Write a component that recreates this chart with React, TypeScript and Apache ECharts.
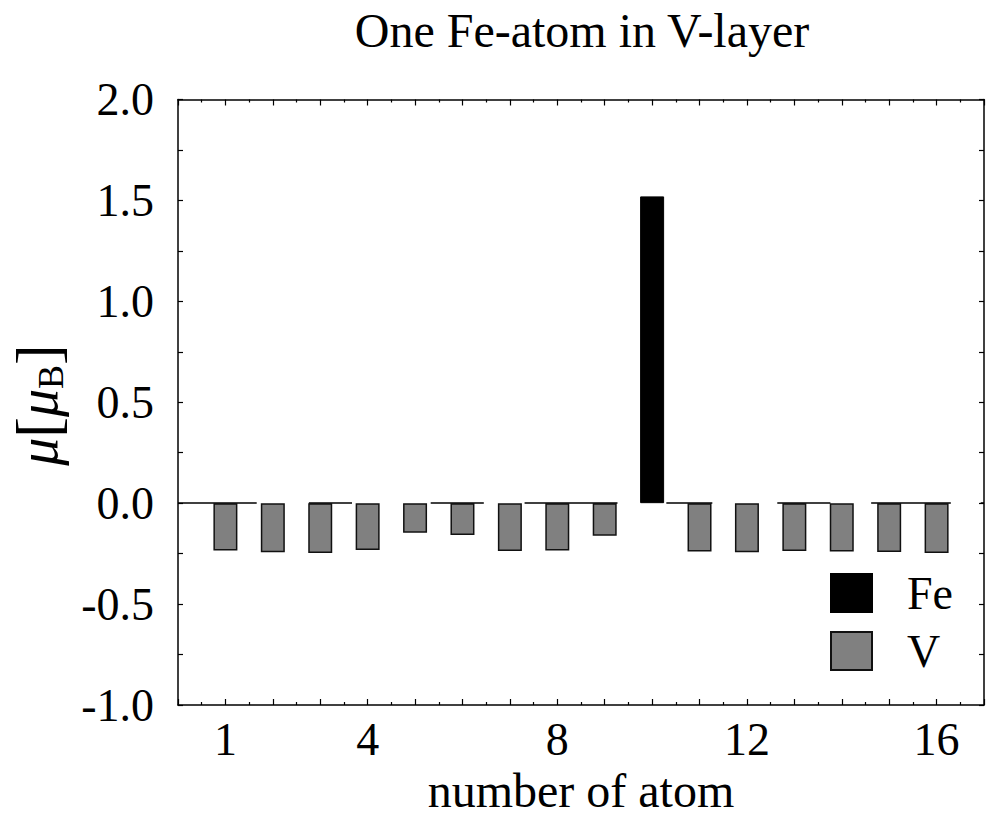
import React, { useEffect, useRef } from "react";
import * as echarts from "echarts";

const atomNumbers = [1, 2, 3, 4, 5, 6, 7, 8, 9, 11, 12, 13, 14, 15, 16];
const vMoments = [-0.235, -0.243, -0.247, -0.232, -0.146, -0.158, -0.237, -0.235, -0.161, -0.240, -0.243, -0.237, -0.240, -0.242, -0.247];
const feAtom = [10];
const feMoments = [1.52];
const xTickLabels = [1, 4, 8, 12, 16];
// zero line drawn in pieces, as in the reference [from, to] along the x axis
const zeroLineSegments = [
  [0, 1.66], [2.76, 3.67], [5.33, 6.45], [7.31, 9.27],
  [10.3, 11.27], [12.64, 13.76], [14.62, 16.3], [16.93, 17],
];

const FONT = "'Liberation Serif', 'Times New Roman', serif";

export default function App() {
  const ref = useRef<HTMLDivElement>(null);
  useEffect(() => {
    if (!ref.current) return;
    const chart = echarts.init(ref.current, undefined, { renderer: "svg" });
    const axisLine = { show: true, onZero: false, lineStyle: { color: "#000", width: 1.5 } };
    const xCommon = {
      type: "value" as const,
      min: 0,
      max: 17,
      interval: 1,
      axisLine,
      axisTick: { show: true, inside: true, length: 6, lineStyle: { color: "#000", width: 1.2 } },
      minorTick: { show: true, splitNumber: 2, length: 3, lineStyle: { color: "#000", width: 1.2 } },
      splitLine: { show: false },
      minorSplitLine: { show: false },
    };
    const yCommon = {
      type: "value" as const,
      min: -1,
      max: 2,
      interval: 0.5,
      axisLine,
      axisTick: { show: true, inside: true, length: 5, lineStyle: { color: "#000", width: 1.2 } },
      minorTick: { show: true, splitNumber: 2, length: 5, lineStyle: { color: "#000", width: 1.2 } },
      splitLine: { show: false },
      minorSplitLine: { show: false },
    };
    chart.setOption({
      animation: false,
      backgroundColor: "#fff",
      title: {
        text: "One Fe-atom in V-layer",
        left: 582,
        textAlign: "center",
        top: 6,
        padding: 0,
        textStyle: { fontFamily: FONT, fontSize: 48, fontWeight: "normal", color: "#000" },
      },
      grid: { left: 178, right: 2, top: 99.5, bottom: 115, containLabel: false },
      legend: {
        orient: "vertical",
        left: 830,
        top: 570,
        padding: 0,
        itemWidth: 41,
        itemHeight: 38,
        itemGap: 12,
        icon: "rect",
        data: ["Fe", "V"],
        textStyle: { fontFamily: FONT, fontSize: 46, color: "#000", padding: [0, 0, 0, 30] },
      },
      xAxis: [
        {
          ...xCommon,
          position: "bottom",
          axisLabel: {
            show: true,
            margin: 11,
            fontFamily: FONT,
            fontSize: 46,
            color: "#000",
            formatter: (v: number) => (xTickLabels.includes(v) ? String(v) : ""),
          },
          name: "number of atom",
          nameLocation: "middle",
          nameGap: 46,
          nameTextStyle: { fontFamily: FONT, fontSize: 48, color: "#000", verticalAlign: "top" },
        },
        { ...xCommon, position: "top", axisLabel: { show: false } },
      ],
      yAxis: [
        {
          ...yCommon,
          position: "left",
          axisLabel: {
            show: true,
            margin: 24,
            fontFamily: FONT,
            fontSize: 46,
            color: "#000",
            formatter: (v: number) => v.toFixed(1),
          },
        },
        { ...yCommon, position: "right", axisLabel: { show: false } },
      ],
      graphic: [
        {
          type: "text",
          x: 38,
          y: 405,
          rotation: Math.PI / 2,
          style: {
            text: "{m|μ}{b|[}{m|μ}{s|B}{b|]}",
            align: "center",
            verticalAlign: "middle",
            rich: {
              m: { fontFamily: FONT, fontStyle: "italic", fontSize: 56, fill: "#000" },
              b: { fontFamily: FONT, fontSize: 62, fill: "#000" },
              s: { fontFamily: FONT, fontSize: 36, fill: "#000", verticalAlign: "bottom" },
            },
          },
        },
      ],
      series: [
        {
          name: "Fe",
          type: "bar",
          barWidth: 24,
          barGap: "-100%",
          itemStyle: { color: "#000", borderColor: "#000", borderWidth: 1 },
          data: feAtom.map((x, i) => [x, feMoments[i]]),
        },
        {
          name: "V",
          type: "bar",
          barWidth: 24,
          barGap: "-100%",
          itemStyle: { color: "#808080", borderColor: "#111", borderWidth: 1.5 },
          data: atomNumbers.map((x, i) => [x, vMoments[i]]),
          markLine: {
            silent: true,
            symbol: "none",
            label: { show: false },
            lineStyle: { color: "#000", width: 1.5, type: "solid" },
            data: zeroLineSegments.map(([a, b]) => [
              { coord: [a, 0] },
              { coord: [b, 0] },
            ]),
          },
        },
      ],
    });
    return () => chart.dispose();
  }, []);
  return (
    <div
      ref={ref}
      style={{ position: "absolute", left: 0, top: 0, width: 987, height: 820 }}
    />
  );
}
